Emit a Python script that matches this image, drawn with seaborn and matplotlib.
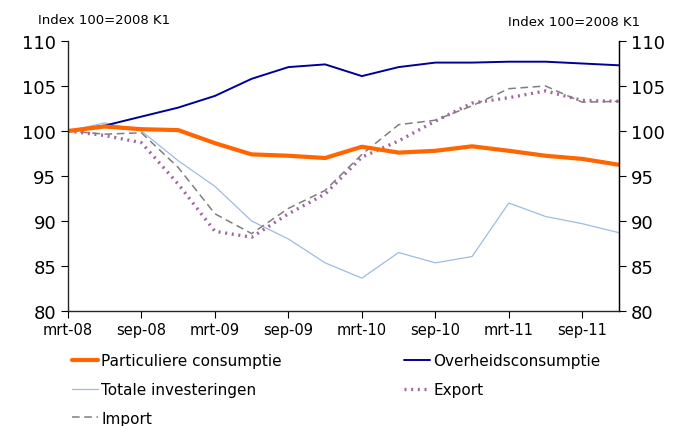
import pandas as pd
import numpy as np
import matplotlib
matplotlib.use('Agg')
import matplotlib.pyplot as plt
import seaborn as sns

quarters = ['mrt-08', 'jun-08', 'sep-08', 'dec-08', 'mrt-09', 'jun-09', 'sep-09', 'dec-09',
            'mrt-10', 'jun-10', 'sep-10', 'dec-10', 'mrt-11', 'jun-11', 'sep-11', 'dec-11']
particuliere = [100.0, 100.5, 100.2, 100.1, 98.65, 97.4, 97.25, 97.0,
                98.25, 97.6, 97.8, 98.3, 97.8, 97.25, 96.9, 96.25]
overheid = [100.0, 100.6, 101.6, 102.6, 103.9, 105.8, 107.1, 107.4,
            106.1, 107.1, 107.6, 107.6, 107.7, 107.7, 107.5, 107.3]
investeringen = [100.0, 100.9, 100.0, 96.7, 93.85, 90.0, 88.0, 85.35,
                 83.65, 86.5, 85.35, 86.05, 92.0, 90.5, 89.7, 88.7]
export = [100.0, 99.5, 98.7, 94.1, 88.85, 88.2, 90.8, 93.0,
          97.1, 98.9, 101.1, 103.1, 103.7, 104.45, 103.4, 103.3]
import_ = [100.0, 99.65, 99.8, 95.95, 90.8, 88.6, 91.4, 93.4,
           97.4, 100.7, 101.2, 102.8, 104.7, 105.0, 103.2, 103.3]

df = pd.DataFrame({
    'q': range(len(quarters)),
    'Particuliere consumptie': particuliere,
    'Overheidsconsumptie': overheid,
    'Totale investeringen': investeringen,
    'Export': export,
    'Import': import_,
})

sns.set_style('white')
plt.rcParams['font.family'] = ['DejaVu Sans']
plt.rcParams['text.color'] = 'black'
plt.rcParams['xtick.color'] = 'black'
plt.rcParams['ytick.color'] = 'black'

fig = plt.figure(figsize=(6.79, 4.27), dpi=100)
ax = fig.add_axes([68/679, 1-312/427, (619-68)/679, 270/427])

# name -> (color, linewidth, linestyle)
styles = {
    'Totale investeringen': ('#9DBCE0', 0.9, '-'),
    'Import': ('#7F7F7F', 1.1, (0, (5, 3))),
    'Export': ('#A0679E', 2.4, (0, (0.6, 1.4))),
    'Overheidsconsumptie': ('#000099', 1.4, '-'),
    'Particuliere consumptie': ('#FF6600', 3.0, '-'),
}
for name, (c, lw, ls) in styles.items():
    sns.lineplot(data=df, x='q', y=name, ax=ax, color=c, linewidth=lw,
                 linestyle=ls, label=name, legend=False)

ax.set_xlim(0, len(quarters) - 1)
ax.set_ylim(80, 110)
ax.set_yticks(np.arange(80, 111, 5))
ax.set_xticks(range(0, len(quarters), 2))
ax.set_xticklabels(quarters[::2], fontsize=10.5)
ax.tick_params(axis='y', labelsize=13, length=5, direction='out', left=True, width=0.8)
ax.tick_params(axis='x', length=5, direction='out', bottom=True, width=0.8, pad=3)
ax.set_xlabel('')
ax.set_ylabel('')
ax.spines['top'].set_visible(False)
for s in ['left', 'right', 'bottom']:
    ax.spines[s].set_color('black')
    ax.spines[s].set_linewidth(0.9)

ax2 = ax.twinx()
ax2.set_ylim(80, 110)
ax2.set_yticks(np.arange(80, 111, 5))
ax2.tick_params(axis='y', labelsize=13, length=5, direction='out', right=True, width=0.8)
ax2.spines['top'].set_visible(False)
ax2.spines['right'].set_color('black')
ax2.spines['right'].set_linewidth(0.9)

fig.text(38/679, 1-20/427, 'Index 100=2008 K1', fontsize=9.5, va='center', ha='left')
fig.text(640/679, 1-23/427, 'Index 100=2008 K1', fontsize=9.5, va='center', ha='right')

handles, labels = ax.get_legend_handles_labels()
hmap = dict(zip(labels, handles))
order = ['Particuliere consumptie', 'Totale investeringen', 'Import',
         'Overheidsconsumptie', 'Export']
fig.legend([hmap[k] for k in order], order, ncol=2, loc='upper left',
           bbox_to_anchor=(66/679, 1-348/427), frameon=False, fontsize=11,
           handlelength=1.7, handletextpad=0.2, columnspacing=8.0,
           labelspacing=0.9, borderaxespad=0)

fig.savefig('out.png', dpi=100)
